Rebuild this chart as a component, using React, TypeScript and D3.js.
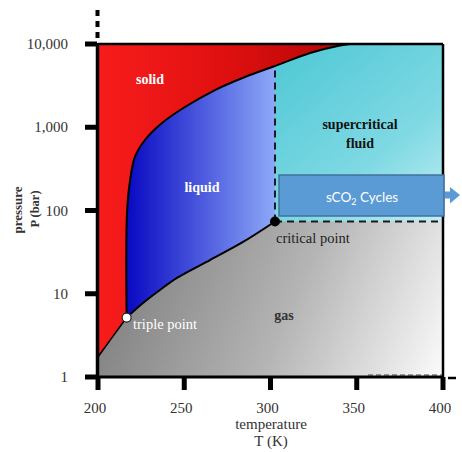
import React from "react";
import * as d3 from "d3";

const xTicks = [200, 250, 300, 350, 400];
const yTicks = [1, 10, 100, 1000, 10000];
const yTickLabels = ["1", "10", "100", "1,000", "10,000"];

// melting curve (solid / liquid boundary)
const meltT = [216.6, 216.8, 218.6, 221.4, 227.2, 237.1, 250.4, 267.8, 285.2, 302.6, 322.9, 340.3, 346];
const meltP = [5.18, 93, 232, 440, 703, 1125, 1750, 2800, 4017, 5440, 7800, 9600, 10000];
// vaporization curve (liquid / gas boundary)
const vapT = [216.6, 226.1, 235.9, 245.8, 264.9, 284.1, 302.6];
const vapP = [5.18, 7.74, 11.1, 15.5, 25.4, 41.9, 73.8];
// sublimation curve (solid / gas boundary)
const subT = [200, 208, 216.6];
const subP = [1.74, 2.95, 5.18];

const triple = { T: 216.6, P: 5.18 };
const critical = { T: 302.6, P: 73.8 };
const meltAtTc = 5440;

const W = 462;
const H = 452;

export default function App() {
  const x = d3.scaleLinear().domain([200, 400]).range([98, 443]);
  const y = d3.scaleLog().domain([1, 10000]).range([377, 44]);

  const pts = (T: number[], P: number[]) => T.map((t, i) => [t, P[i]] as [number, number]);
  const line = d3
    .line<[number, number]>()
    .x((d) => x(d[0]))
    .y((d) => y(d[1]))
    .curve(d3.curveCatmullRom.alpha(0.5));

  const melt = pts(meltT, meltP);
  const vap = pts(vapT, vapP);
  const sub = pts(subT, subP);

  const asL = (s: string | null) => (s || "").replace(/^M/, "L");

  const solidPath =
    `M${x(200)},${y(10000)} L${x(meltT[meltT.length - 1])},${y(10000)} ` +
    asL(line([...melt].reverse())) +
    asL(line([...sub].reverse())) +
    `L${x(200)},${y(subP[0])} Z`;

  const liquidPath =
    line(vap) +
    `L${x(critical.T)},${y(10000)} L${x(200)},${y(10000)} L${x(200)},${y(triple.P)} Z`;

  const serif = "Liberation Serif, Tinos, DejaVu Serif, Noto Serif, Times New Roman, serif";
  const serifStyle = { fontFamily: serif };

  return (
    <svg width={W} height={H} style={{ position: "absolute", left: 0, top: 0, background: "#fff" }}>
      <defs>
        <linearGradient id="gasG" gradientUnits="userSpaceOnUse" x1={98} y1={230} x2={443} y2={377}>
          <stop offset="0" stopColor="#777" />
          <stop offset="0.55" stopColor="#b4b4b4" />
          <stop offset="1" stopColor="#fbfbfb" />
        </linearGradient>
        <linearGradient id="redG" gradientUnits="userSpaceOnUse" x1={98} y1={0} x2={350} y2={0}>
          <stop offset="0" stopColor="#f81c1c" />
          <stop offset="0.5" stopColor="#e01010" />
          <stop offset="1" stopColor="#b30505" />
        </linearGradient>
        <linearGradient id="blueG" gradientUnits="userSpaceOnUse" x1={126} y1={0} x2={276} y2={0}>
          <stop offset="0" stopColor="#0808c2" />
          <stop offset="1" stopColor="#8eaaf8" />
        </linearGradient>
        <linearGradient id="cyanG" gradientUnits="userSpaceOnUse" x1={300} y1={44} x2={443} y2={221}>
          <stop offset="0" stopColor="#52c9d6" />
          <stop offset="0.6" stopColor="#7fd9e3" />
          <stop offset="1" stopColor="#c2eef3" />
        </linearGradient>
      </defs>

      <rect x={x(200)} y={y(10000)} width={x(400) - x(200)} height={y(1) - y(10000)} fill="url(#gasG)" />
      <rect
        x={x(critical.T)}
        y={y(10000)}
        width={x(400) - x(critical.T)}
        height={y(critical.P) - y(10000)}
        fill="url(#cyanG)"
      />
      <path d={liquidPath} fill="url(#blueG)" />
      <path d={solidPath} fill="url(#redG)" />

      <path d={line(melt) || ""} fill="none" stroke="#000" strokeWidth={2} />
      <path d={line(vap) || ""} fill="none" stroke="#000" strokeWidth={2} />
      <path d={line(sub) || ""} fill="none" stroke="#000" strokeWidth={1.5} />

      <line
        x1={x(critical.T)}
        x2={x(critical.T)}
        y1={y(critical.P)}
        y2={y(meltAtTc)}
        stroke="#1a1a2a"
        strokeWidth={2}
        strokeDasharray="7,5"
      />
      <line
        x1={x(critical.T)}
        x2={x(400)}
        y1={y(critical.P)}
        y2={y(critical.P)}
        stroke="#1a1a1a"
        strokeWidth={2}
        strokeDasharray="7,5"
      />
      <line x1={368} x2={x(400)} y1={375} y2={375} stroke="#444" strokeWidth={1} strokeDasharray="5,3" />

      <g style={serifStyle}>
        <text x={150} y={84} fill="#fff" fontWeight="bold" fontSize={14} textAnchor="middle">
          solid
        </text>
        <text x={202} y={192} fill="#fff" fontWeight="bold" fontSize={14} textAnchor="middle">
          liquid
        </text>
        <text x={360} y={129} fill="#111" fontWeight="bold" fontSize={14} textAnchor="middle">
          supercritical
        </text>
        <text x={360} y={148} fill="#111" fontWeight="bold" fontSize={14} textAnchor="middle">
          fluid
        </text>
        <text x={284} y={320} fill="#333" fontWeight="bold" fontSize={14} textAnchor="middle">
          gas
        </text>
        <text x={276} y={243} fill="#222" fontSize={14.5}>
          critical point
        </text>
        <text x={133} y={329} fill="#fff" fontSize={14.5}>
          triple point
        </text>
      </g>

      <circle cx={x(critical.T)} cy={y(critical.P)} r={5} fill="#000" />
      <circle cx={x(triple.T)} cy={y(triple.P)} r={4.5} fill="#fff" stroke="#222" strokeWidth={1.2} />

      <line x1={x(200)} x2={x(400)} y1={y(10000)} y2={y(10000)} stroke="#000" strokeWidth={2.5} />
      <line x1={x(400)} x2={x(400)} y1={y(10000)} y2={y(1)} stroke="#000" strokeWidth={2.5} />

      <rect x={279} y={175} width={165} height={41} fill="#5b9bd5" stroke="#41719c" strokeWidth={1.5} />
      <path d="M445,191.5 L450,191.5 L450,187 L460,195 L450,203.5 L450,198.5 L445,198.5 Z" fill="#5b9bd5" />
      <text x={362} y={201.5} fill="#fff" style={{ fontFamily: "Lato, Open Sans, sans-serif" }} fontSize={13.5} textAnchor="middle">
        sCO
        <tspan fontSize={9} dy={3}>2</tspan>
        <tspan dy={-3}> Cycles</tspan>
      </text>

      <line x1={97.5} x2={97.5} y1={10} y2={42} stroke="#000" strokeWidth={4} strokeDasharray="6,5" />
      <line x1={97.5} x2={97.5} y1={y(10000) - 1} y2={y(1) + 1.5} stroke="#000" strokeWidth={3.5} />
      <line x1={96} x2={x(400) + 1} y1={377} y2={377} stroke="#000" strokeWidth={3} />
      <line x1={448} x2={456} y1={378} y2={378} stroke="#000" strokeWidth={2.5} />

      <g style={serifStyle}>
        {yTicks.map((t, i) => (
          <g key={"y" + t}>
            <line x1={85} x2={97} y1={y(t)} y2={y(t)} stroke="#000" strokeWidth={5} />
            <text x={68} y={y(t) + 5} textAnchor="end" fontSize={15} fill="#333">
              {yTickLabels[i]}
            </text>
          </g>
        ))}
        {xTicks.map((t) => (
          <g key={"x" + t}>
            <line x1={x(t)} x2={x(t)} y1={377} y2={390} stroke="#000" strokeWidth={5} />
            <text x={x(t) - 3} y={413} textAnchor="middle" fontSize={15} fill="#333">
              {t}
            </text>
          </g>
        ))}

        <text x={271} y={429} textAnchor="middle" fontSize={15} fill="#333">
          temperature
        </text>
        <text x={271} y={446} textAnchor="middle" fontSize={15} fill="#333">
          T (K)
        </text>
        <text transform="translate(22,210) rotate(-90)" textAnchor="middle" fontWeight="bold" fontSize={13} fill="#333">
          pressure
        </text>
        <text transform="translate(39,209) rotate(-90)" textAnchor="middle" fontWeight="bold" fontSize={12.5} fill="#333">
          P (bar)
        </text>
      </g>
    </svg>
  );
}
